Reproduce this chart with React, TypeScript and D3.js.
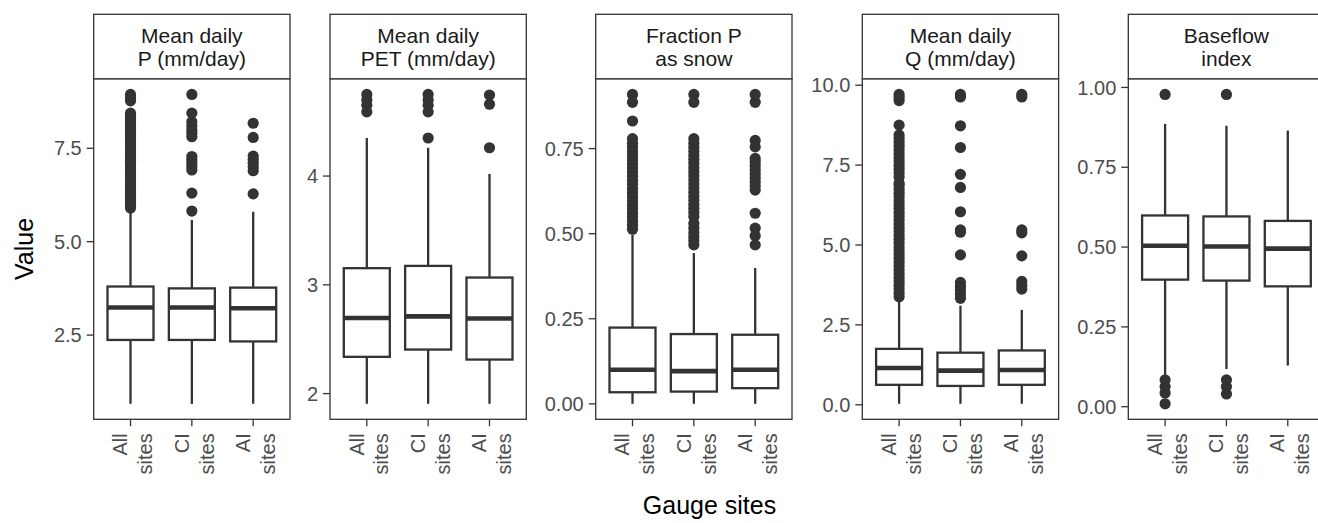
import React from 'react';
import * as d3 from 'd3';

const groups = ['All sites', 'CI sites', 'AI sites'];

const panelTitles = [
  ['Mean daily', 'P (mm/day)'],
  ['Mean daily', 'PET (mm/day)'],
  ['Fraction P', 'as snow'],
  ['Mean daily', 'Q (mm/day)'],
  ['Baseflow', 'index'],
];

const panelTicks = [
  [2.5, 5, 7.5],
  [2, 3, 4],
  [0, 0.25, 0.5, 0.75],
  [0, 2.5, 5, 7.5, 10],
  [0, 0.25, 0.5, 0.75, 1],
];
const tickDigits = [1, 0, 2, 1, 2];

// [lower whisker, q1, median, q3, upper whisker] for All / CI / AI
const precipBoxes = [
  [0.66, 2.37, 3.24, 3.8, 5.85],
  [0.66, 2.37, 3.24, 3.75, 5.58],
  [0.66, 2.33, 3.22, 3.77, 5.8],
];
const petBoxes = [
  [1.906, 2.338, 2.695, 3.153, 4.35],
  [1.906, 2.405, 2.71, 3.174, 4.26],
  [1.906, 2.313, 2.69, 3.067, 4.02],
];
const snowBoxes = [
  [0.0, 0.034, 0.1, 0.224, 0.497],
  [0.0, 0.036, 0.096, 0.205, 0.443],
  [0.0, 0.046, 0.1, 0.203, 0.399],
];
const flowBoxes = [
  [0.03, 0.625, 1.15, 1.75, 3.34],
  [0.03, 0.59, 1.07, 1.63, 3.1],
  [0.03, 0.625, 1.09, 1.7, 2.97],
];
const bfiBoxes = [
  [0.1, 0.398, 0.504, 0.599, 0.886],
  [0.118, 0.395, 0.502, 0.596, 0.88],
  [0.129, 0.377, 0.495, 0.582, 0.865],
];

const precipOutliers = [
  [5.9, 5.96, 6.03, 6.09, 6.16, 6.24, 6.31, 6.37, 6.45, 6.52, 6.6, 6.66, 6.74, 6.81, 6.89, 6.96, 7.03, 7.11,
    7.18, 7.26, 7.33, 7.41, 7.48, 7.56, 7.63, 7.71, 7.78, 7.86, 7.93, 8.01, 8.08, 8.16, 8.23, 8.31, 8.38, 8.44,
    8.77, 8.86, 8.94],
  [5.82, 6.3, 6.92, 7.01, 7.1, 7.19, 7.28, 7.81, 7.9, 7.99, 8.1, 8.21, 8.44, 8.94],
  [6.28, 6.9, 7.0, 7.1, 7.2, 7.29, 7.79, 8.17],
];
const petOutliers = [
  [4.59, 4.65, 4.7, 4.75],
  [4.35, 4.59, 4.65, 4.7, 4.75],
  [4.26, 4.66, 4.745],
];
const snowOutliers = [
  [0.513, 0.525, 0.537, 0.549, 0.561, 0.573, 0.585, 0.597, 0.609, 0.621, 0.633, 0.645, 0.657, 0.669, 0.681,
    0.693, 0.705, 0.717, 0.729, 0.741, 0.753, 0.766, 0.779, 0.831, 0.886, 0.909],
  [0.467, 0.479, 0.491, 0.503, 0.516, 0.53, 0.55, 0.562, 0.574, 0.586, 0.598, 0.61, 0.622, 0.634, 0.646,
    0.658, 0.67, 0.682, 0.694, 0.706, 0.718, 0.73, 0.742, 0.754, 0.766, 0.779, 0.886, 0.909],
  [0.467, 0.494, 0.516, 0.56, 0.628, 0.64, 0.652, 0.664, 0.676, 0.688, 0.7, 0.711, 0.721, 0.755, 0.774,
    0.886, 0.909],
];
const flowOutliers = [
  [3.38, 3.5, 3.62, 3.74, 3.86, 3.98, 4.1, 4.22, 4.34, 4.46, 4.58, 4.7, 4.82, 4.94, 5.06, 5.18, 5.3, 5.42,
    5.54, 5.66, 5.78, 5.9, 6.02, 6.14, 6.26, 6.38, 6.5, 6.62, 6.74, 6.86, 6.93, 7.13, 7.25, 7.37, 7.49, 7.61,
    7.73, 7.85, 7.97, 8.09, 8.21, 8.33, 8.44, 8.75, 9.52, 9.62, 9.71],
  [3.33, 3.45, 3.58, 3.7, 3.83, 4.69, 5.4, 5.47, 6.04, 6.8, 7.21, 8.05, 8.73, 9.63, 9.71],
  [3.62, 3.73, 3.86, 4.66, 5.38, 5.47, 9.63, 9.71],
];
const bfiOutliers = [
  [0.009, 0.043, 0.063, 0.084, 0.978],
  [0.04, 0.063, 0.084, 0.978],
  [],
];

const panelBoxes = [precipBoxes, petBoxes, snowBoxes, flowBoxes, bfiBoxes];
const panelOutliers = [precipOutliers, petOutliers, snowOutliers, flowOutliers, bfiOutliers];

// layout
const W = 1318;
const H = 523;
const panelLefts = [93.7, 330, 595.7, 862.3, 1128.3];
const panelW = 196.3;
const stripTop = 14.3;
const panelTop = 79;
const panelBottom = 419.3;

const ink = '#333333';
const fontFamily = '"Liberation Sans", Arial, Helvetica, sans-serif';

const Panel = ({ idx }: { idx: number }) => {
  const left = panelLefts[idx];
  const boxes = panelBoxes[idx];
  const outs = panelOutliers[idx];

  const allVals = boxes.flat().concat(outs.flat());
  const lo = d3.min(allVals) as number;
  const hi = d3.max(allVals) as number;
  const pad = (hi - lo) * 0.05;

  const y = d3.scaleLinear().domain([lo - pad, hi + pad]).range([panelBottom, panelTop]);
  const x = d3.scalePoint().domain(groups).range([left, left + panelW]).padding(0.6);
  const bw = x.step() * 0.75;
  const fmt = d3.format(`.${tickDigits[idx]}f`);

  return (
    <g>
      {/* strip */}
      <rect x={left} y={stripTop} width={panelW} height={panelTop - stripTop} fill="white" stroke={ink} strokeWidth={1.3} />
      {panelTitles[idx].map((t, i) => (
        <text key={i} x={left + panelW / 2} y={42.7 + i * 23.3} textAnchor="middle" fontSize={21} fill="#1a1a1a">
          {t}
        </text>
      ))}

      {/* panel */}
      <rect x={left} y={panelTop} width={panelW} height={panelBottom - panelTop} fill="white" stroke={ink} strokeWidth={1.3} />

      {/* y axis */}
      {panelTicks[idx].map((t) => (
        <g key={t}>
          <line x1={left - 7} x2={left} y1={y(t)} y2={y(t)} stroke={ink} strokeWidth={1.3} />
          <text x={left - 12} y={y(t)} dy="0.36em" textAnchor="end" fontSize={20} fill="#4d4d4d">
            {fmt(t)}
          </text>
        </g>
      ))}

      {/* boxes */}
      {groups.map((g, gi) => {
        const [wl, q1, med, q3, wh] = boxes[gi];
        const cx = x(g) as number;
        return (
          <g key={g}>
            <line x1={cx} x2={cx} y1={y(q3)} y2={y(wh)} stroke={ink} strokeWidth={2.3} />
            <line x1={cx} x2={cx} y1={y(q1)} y2={y(wl)} stroke={ink} strokeWidth={2.3} />
            <rect x={cx - bw / 2} y={y(q3)} width={bw} height={y(q1) - y(q3)} fill="white" stroke={ink} strokeWidth={2.3} />
            <line x1={cx - bw / 2} x2={cx + bw / 2} y1={y(med)} y2={y(med)} stroke={ink} strokeWidth={4.6} />
            {outs[gi].map((v, k) => (
              <circle key={k} cx={cx} cy={y(v)} r={5.6} fill={ink} />
            ))}
          </g>
        );
      })}

      {/* x axis */}
      {groups.map((g) => {
        const cx = x(g) as number;
        const [a, b] = g.split(' ');
        return (
          <g key={g}>
            <line x1={cx} x2={cx} y1={panelBottom} y2={panelBottom + 7} stroke={ink} strokeWidth={1.3} />
            <g transform={`translate(${cx},433.3) rotate(-90)`}>
              <text x={0} y={-3.3} textAnchor="end" fontSize={20} fill="#4d4d4d">{a}</text>
              <text x={0} y={21.7} textAnchor="end" fontSize={20} fill="#4d4d4d">{b}</text>
            </g>
          </g>
        );
      })}
    </g>
  );
};

export default function App() {
  return (
    <svg
      width={W}
      height={H}
      style={{ position: 'absolute', left: 0, top: 0, background: 'white' }}
      fontFamily={fontFamily}
    >
      <rect width={W} height={H} fill="white" />
      {panelTitles.map((_, i) => (
        <Panel key={i} idx={i} />
      ))}
      <text transform="translate(33,249) rotate(-90)" textAnchor="middle" fontSize={25} fill="black">
        Value
      </text>
      <text x={709.5} y={514} textAnchor="middle" fontSize={25} fill="black">
        Gauge sites
      </text>
    </svg>
  );
}
